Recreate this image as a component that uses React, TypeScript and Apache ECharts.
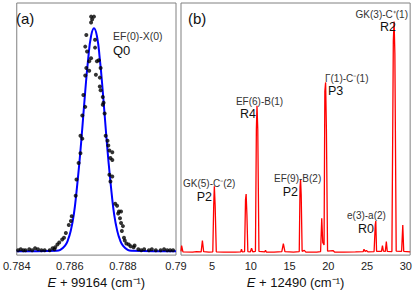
import React, { useEffect, useRef } from "react";
import * as echarts from "echarts";

// ---- Panel (a): EF(0)-X(0) Q0 line profile ----
const dotsX = [
  0.7868, 0.78691, 0.78684, 0.7868, 0.78662, 0.78695, 0.78658, 0.78695, 0.78665,
  0.7868, 0.78709, 0.78702, 0.78673, 0.78662, 0.78716, 0.78673, 0.78658, 0.78698,
  0.78713, 0.78713, 0.78716, 0.78651, 0.78724, 0.78658, 0.78724, 0.78727, 0.78647,
  0.78731, 0.7864, 0.78647, 0.78735, 0.78742, 0.78745, 0.78749, 0.7876, 0.78753,
  0.7876, 0.7864, 0.78633, 0.78749, 0.7876, 0.78753, 0.78625, 0.78622, 0.78771,
  0.78778, 0.78785, 0.78793, 0.78782, 0.78789, 0.78793, 0.788, 0.78796, 0.78804,
  0.78607, 0.78604, 0.78596, 0.78585, 0.78578, 0.78571, 0.7856, 0.78553, 0.78807,
  0.78822, 0.7884, 0.78844, 0.78405, 0.78415, 0.78425, 0.78433, 0.78447, 0.78458,
  0.78469, 0.7848, 0.78493, 0.78505, 0.78524, 0.78535, 0.78542, 0.78858, 0.78869,
  0.7888, 0.78898, 0.78909, 0.78924, 0.78942, 0.78955, 0.78967, 0.78978, 0.78989,
  0.78545, 0.78813, 0.78829
];
const dotsY = [
  94.6, 94.6, 93.5, 92.3, 87.3, 85.4, 82.7, 82.3, 80.8,
  78.1, 77.3, 76.9, 76.9, 74.2, 74.2, 73.1, 71.2, 71.5,
  70.4, 66.9, 65.4, 63.5, 62.7, 58.8, 59.6, 60.4, 55.4,
  56.2, 47.3, 46.2, 47.3, 45.4, 43.5, 41.5, 40.8, 38.5,
  37.7, 40.4, 36.5, 31.9, 31.2, 29.2, 30.0, 23.5, 20.4,
  19.6, 17.3, 17.3, 16.5, 14.6, 12.7, 11.5, 9.6, 6.9,
  15.4, 13.5, 11.9, 8.8, 6.9, 6.2, 5.0, 4.2, 5.8,
  4.2, 3.1, 3.8, 1.9, 2.3, 1.9, 1.9, 2.3, 1.9,
  2.7, 2.3, 1.9, 1.9, 1.9, 2.7, 2.3, 2.3, 1.9,
  2.3, 1.9, 2.3, 1.9, 1.9, 2.3, 1.9, 1.9, 1.9,
  3.1, 4.6, 3.5
];
const fitX = [
  0.784, 0.7855, 0.78564, 0.78582, 0.78593, 0.78604, 0.78615, 0.78625, 0.78636,
  0.78647, 0.78658, 0.78669, 0.7868, 0.78691, 0.78702, 0.78713, 0.78724, 0.78735,
  0.78746, 0.78757, 0.78767, 0.78778, 0.78789, 0.788, 0.78818, 0.78832, 0.79
];
const fitY = [
  1.5, 1.7, 2.1, 3.8, 6.0, 9.9, 16.1, 25.0, 36.7,
  50.4, 65.0, 77.7, 86.9, 90.0, 86.9, 77.7, 65.0, 50.4,
  36.7, 25.0, 16.1, 9.9, 6.0, 3.8, 2.1, 1.7, 1.5
];
const aTicks = [0.784, 0.786, 0.788, 0.79];

// ---- Panel (b): spectrum ----
const specX = [
  1.0, 1.08, 1.25, 2.5, 3.0, 3.6, 3.76, 3.92, 4.6, 5.1, 5.22, 5.3, 5.4, 5.55,
  6.5, 8.0, 8.7, 8.8, 8.9, 9.2, 9.32, 9.4, 9.5, 9.62, 9.95, 10.1, 10.25, 10.6,
  10.72, 10.8, 10.9, 11.05, 11.8, 11.9, 12.0, 13.0, 14.0, 14.2, 14.4, 15.5,
  16.25, 16.35, 16.42, 16.5, 16.62, 16.9, 17.1, 18.5, 19.0, 19.15, 19.28, 19.45,
  19.55, 19.65, 19.75, 19.9, 20.6, 20.8, 22.0, 23.5, 24.5, 24.6, 24.75, 24.9,
  25.1, 25.9, 26.05, 26.12, 26.22, 26.85, 26.98, 27.1, 27.35, 27.48, 27.6, 28.2,
  28.38, 28.48, 28.58, 28.75, 29.45, 29.6, 29.72, 30.55
];
const specY = [
  1.5, 3.8, 1.3, 1.2, 1.4, 1.3, 5.8, 1.4, 1.2, 1.3, 20, 27.3, 20, 1.3,
  1.2, 1.2, 1.3, 2.3, 1.3, 1.4, 22, 24.2, 16, 1.4, 1.3, 2.7, 1.3, 1.5,
  50, 59.2, 50, 1.5, 1.3, 1.9, 1.2, 1.2, 1.4, 4.6, 1.4, 1.2,
  1.4, 27, 30, 24, 1.5, 1.9, 1.2, 1.2, 1.4, 14.6, 5, 4,
  65, 68.5, 50, 1.6, 1.8, 1.2, 1.2, 1.3, 1.4, 2.3, 1.4, 1.8,
  1.3, 1.4, 12, 13.5, 1.5, 1.5, 3.8, 1.6, 1.5, 5.4, 1.5, 1.4,
  85, 92.7, 80, 1.6, 1.5, 11.9, 1.5, 1.3
];
const bTicks = [5, 10, 15, 20, 25, 30];

const FONT = "'Liberation Sans', Arial, Helvetica, sans-serif";

export default function App() {
  const ref = useRef<HTMLDivElement>(null);
  useEffect(() => {
    if (!ref.current) return;
    const chart = echarts.init(ref.current, null, { renderer: "svg" });
    const dots = dotsX.map((x, i) => [x, dotsY[i]]);
    const fit = fitX.map((x, i) => [x, fitY[i]]);
    const spec = specX.map((x, i) => [x, specY[i]]);
    const axisName = {
      nameLocation: "middle" as const,
      nameGap: 16,
      nameTextStyle: {
        fontFamily: FONT,
        fontSize: 13,
        color: "#111",
        rich: {
          i: { fontStyle: "italic", fontSize: 13, fontFamily: FONT, color: "#111" },
          n: { fontSize: 13, fontFamily: FONT, color: "#111" },
        },
      },
    };
    const labelStyle = { fontFamily: FONT, fontSize: 11, color: "#222", margin: 5 };
    const txt = (
      text: string,
      x: number,
      y: number,
      size: number,
      align: string,
      color = "#222"
    ) => ({
      type: "text",
      x,
      y,
      style: {
        text,
        fontFamily: FONT,
        fontSize: size,
        fill: color,
        textAlign: align,
        textVerticalAlign: "middle",
      },
      z: 10,
    });
    const S = 10;
    const B = 12.5;
    chart.setOption({
      animation: false,
      grid: [
        {
          left: 11, top: 3, width: 165, height: 260,
          show: true, borderColor: "#808080", borderWidth: 1, backgroundColor: "transparent",
        },
        {
          left: 181, top: 3, width: 232, height: 260,
          show: true, borderColor: "#808080", borderWidth: 1, backgroundColor: "transparent",
        },
      ],
      xAxis: [
        {
          gridIndex: 0, type: "value", min: 0.784, max: 0.79,
          axisLine: { show: false }, axisTick: { show: false }, splitLine: { show: false },
          axisLabel: {
            ...labelStyle,
            customValues: aTicks,
            showMinLabel: true, showMaxLabel: true,
            formatter: (v: number) => String(+v.toFixed(3)),
          },
          name: "{i|E}{n| + 99164 (cm⁻¹)}",
          ...axisName,
        },
        {
          gridIndex: 1, type: "value", min: 1, max: 30.55,
          axisLine: { show: false }, axisTick: { show: false }, splitLine: { show: false },
          axisLabel: {
            ...labelStyle,
            customValues: bTicks,
            showMinLabel: true, showMaxLabel: true,
            formatter: (v: number) => String(Math.round(v)),
          },
          name: "{i|E}{n| + 12490 (cm⁻¹)}",
          ...axisName,
        },
      ],
      yAxis: [
        { gridIndex: 0, type: "value", min: 0, max: 100, show: false, splitLine: { show: false } },
        { gridIndex: 1, type: "value", min: 0, max: 100, show: false, splitLine: { show: false } },
      ],
      series: [
        {
          type: "line", xAxisIndex: 0, yAxisIndex: 0, data: fit, smooth: true,
          showSymbol: false, lineStyle: { color: "#0000ff", width: 2 }, z: 2,
        },
        {
          type: "scatter", xAxisIndex: 0, yAxisIndex: 0, data: dots,
          symbolSize: 4, itemStyle: { color: "#000" }, z: 3,
        },
        {
          type: "line", xAxisIndex: 1, yAxisIndex: 1, data: spec,
          showSymbol: false, lineStyle: { color: "#ff0000", width: 1.3 }, z: 2,
        },
      ],
      graphic: [
        txt("(a)", 16, 18, 15, "left", "#111"),
        txt("(b)", 188, 18, 15, "left", "#111"),
        txt("EF(0)-X(0)", 113, 36, 10.5, "left", "#333"),
        txt("Q0", 113, 50, 13, "left", "#111"),
        txt("GK(3)-C⁺(1)", 408, 14, S, "right", "#333"),
        txt("R2", 396, 27, B, "right", "#111"),
        txt("Γ(1)-C⁻(1)", 325, 78.5, S, "left", "#333"),
        txt("P3", 328, 91, B, "left", "#111"),
        txt("EF(6)-B(1)", 259.5, 101.5, S, "center", "#333"),
        txt("R4", 256, 114, B, "right", "#111"),
        txt("GK(5)-C⁻(2)", 183, 183.5, S, "left", "#333"),
        txt("P2", 212, 197, B, "right", "#111"),
        txt("EF(9)-B(2)", 274, 178.5, S, "left", "#333"),
        txt("P2", 298, 192, B, "right", "#111"),
        txt("e(3)-a(2)", 347, 215.5, S, "left", "#333"),
        txt("R0", 374, 229, B, "right", "#111"),
      ],
    });
    return () => chart.dispose();
  }, []);
  return (
    <div
      ref={ref}
      style={{ position: "fixed", left: 0, top: 0, width: 415, height: 294, background: "#fff" }}
    />
  );
}
